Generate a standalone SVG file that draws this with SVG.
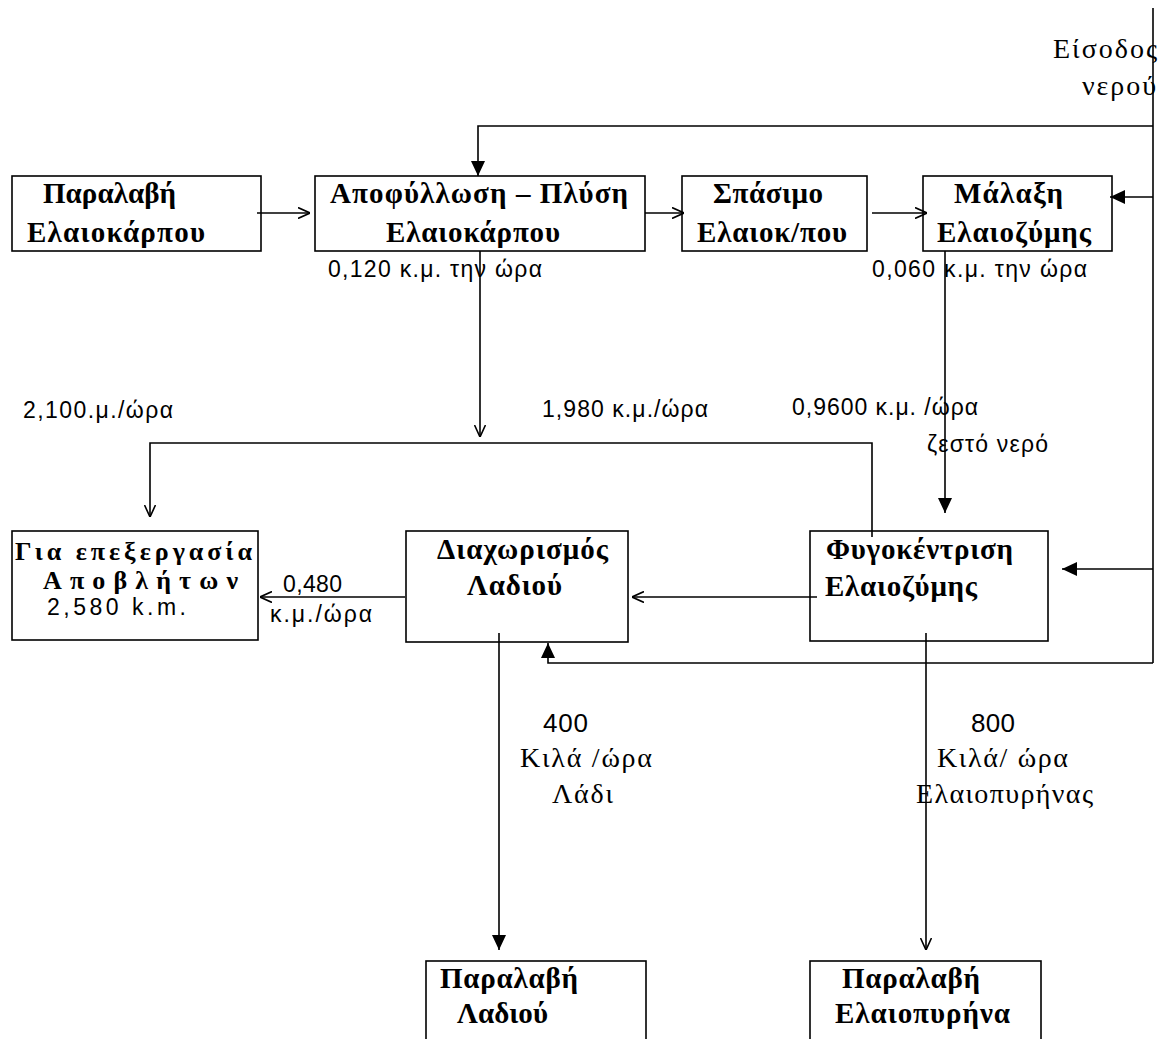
<svg xmlns="http://www.w3.org/2000/svg" width="1160" height="1039" viewBox="0 0 1160 1039">
<style>
.box{fill:none;stroke:#000;stroke-width:1.6}
.ln{fill:none;stroke:#000;stroke-width:1.6}
.b{font-family:"Liberation Serif","DejaVu Serif",serif;font-weight:bold;font-size:29px;fill:#000}
.b2{font-family:"Liberation Serif","DejaVu Serif",serif;font-weight:bold;font-size:26px;fill:#000}
.s{font-family:"Liberation Sans","DejaVu Sans",sans-serif;font-size:23px;fill:#000}
.r{font-family:"Liberation Serif","DejaVu Serif",serif;font-size:28px;fill:#000}
.big{font-family:"Liberation Sans","DejaVu Sans",sans-serif;font-size:26px;fill:#000}
</style>
<defs>
<marker id="open" viewBox="0 0 12 12" refX="12" refY="6" markerWidth="12" markerHeight="12" markerUnits="userSpaceOnUse" orient="auto">
<path d="M0,0.5 L12,6 L0,11.5" fill="none" stroke="#000" stroke-width="1.6"/>
</marker>
<marker id="fill" viewBox="0 0 15 14" refX="15" refY="7" markerWidth="15" markerHeight="14" markerUnits="userSpaceOnUse" orient="auto">
<path d="M0,0 L15,7 L0,14 Z" fill="#000"/>
</marker>
</defs>
<rect x="0" y="0" width="1160" height="1039" fill="#fff"/>

<g id="n1">
<rect class="box" x="12" y="176" width="249" height="75"/>
<text class="b" x="43" y="203" textLength="133" lengthAdjust="spacing">Παραλαβή</text>
<text class="b" x="27" y="242" textLength="178" lengthAdjust="spacing">Ελαιοκάρπου</text>
</g>
<g id="n2">
<rect class="box" x="315" y="176" width="330" height="75"/>
<text class="b" x="330" y="203" textLength="298" lengthAdjust="spacing">Αποφύλλωση – Πλύση</text>
<text class="b" x="386" y="242" textLength="174" lengthAdjust="spacing">Ελαιοκάρπου</text>
</g>
<g id="n3">
<rect class="box" x="682" y="176" width="185" height="75"/>
<text class="b" x="713" y="203" textLength="110" lengthAdjust="spacing">Σπάσιμο</text>
<text class="b" x="697" y="242" textLength="150" lengthAdjust="spacing">Ελαιοκ/που</text>
</g>
<g id="n4">
<rect class="box" x="923" y="176" width="189" height="75"/>
<text class="b" x="954" y="203" textLength="109" lengthAdjust="spacing">Μάλαξη</text>
<text class="b" x="937" y="242" textLength="154" lengthAdjust="spacing">Ελαιοζύμης</text>
</g>
<g id="n5">
<rect class="box" x="12" y="531" width="246" height="109"/>
<text class="b2" x="15" y="560" textLength="237" lengthAdjust="spacing">Για επεξεργασία</text>
<text class="b2" x="43" y="589" textLength="195" lengthAdjust="spacing">Αποβλήτων</text>
<text class="s" x="47" y="615" textLength="139" lengthAdjust="spacing">2,580 k.m.</text>
</g>
<g id="n6">
<rect class="box" x="406" y="531" width="222" height="111"/>
<text class="b" x="437" y="559" textLength="171" lengthAdjust="spacing">Διαχωρισμός</text>
<text class="b" x="467" y="595" textLength="95" lengthAdjust="spacing">Λαδιού</text>
</g>
<g id="n7">
<rect class="box" x="810" y="531" width="238" height="110"/>
<text class="b" x="826" y="559" textLength="187" lengthAdjust="spacing">Φυγοκέντριση</text>
<text class="b" x="825" y="596" textLength="152" lengthAdjust="spacing">Ελαιοζύμης</text>
</g>
<g id="n8">
<rect class="box" x="426" y="961" width="220" height="100"/>
<text class="b" x="440" y="988" textLength="138" lengthAdjust="spacing">Παραλαβή</text>
<text class="b" x="457" y="1023" textLength="91" lengthAdjust="spacing">Λαδιού</text>
</g>
<g id="n9">
<rect class="box" x="810" y="961" width="231" height="100"/>
<text class="b" x="842" y="988" textLength="138" lengthAdjust="spacing">Παραλαβή</text>
<text class="b" x="835" y="1023" textLength="175" lengthAdjust="spacing">Ελαιοπυρήνα</text>
</g>

<g id="connectors">
<line class="ln" x1="257" y1="213" x2="310" y2="213" marker-end="url(#open)"/>
<line class="ln" x1="645" y1="213" x2="684" y2="213" marker-end="url(#open)"/>
<line class="ln" x1="872" y1="213" x2="927" y2="213" marker-end="url(#open)"/>
<line class="ln" x1="1153" y1="8" x2="1153" y2="663"/>
<polyline class="ln" points="1153,126 478,126 478,176" marker-end="url(#fill)"/>
<line class="ln" x1="1153" y1="197" x2="1110" y2="197" marker-end="url(#fill)"/>
<line class="ln" x1="1153" y1="569" x2="1062" y2="569" marker-end="url(#fill)"/>
<polyline class="ln" points="1153,663 548,663 548,643" marker-end="url(#fill)"/>
<line class="ln" x1="480" y1="251" x2="480" y2="437" marker-end="url(#open)"/>
<polyline class="ln" points="872,537 872,443 150,443 150,517" marker-end="url(#open)"/>
<line class="ln" x1="945" y1="251" x2="945" y2="513" marker-end="url(#fill)"/>
<line class="ln" x1="817" y1="597" x2="632" y2="597" marker-end="url(#open)"/>
<line class="ln" x1="405" y1="597" x2="260" y2="597" marker-end="url(#open)"/>
<line class="ln" x1="499" y1="633" x2="499" y2="950" marker-end="url(#fill)"/>
<line class="ln" x1="926" y1="633" x2="926" y2="950" marker-end="url(#open)"/>
</g>

<g id="labels">
<text class="r" x="1053" y="58" textLength="104" lengthAdjust="spacing">Είσοδος</text>
<text class="r" x="1082" y="95" textLength="74" lengthAdjust="spacing">νερού</text>
<text class="s" x="328" y="277" textLength="214" lengthAdjust="spacing">0,120 κ.μ. την ώρα</text>
<text class="s" x="872" y="277" textLength="215" lengthAdjust="spacing">0,060 κ.μ. την ώρα</text>
<text class="s" x="23" y="418" textLength="150" lengthAdjust="spacing">2,100.μ./ώρα</text>
<text class="s" x="542" y="417" textLength="166" lengthAdjust="spacing">1,980 κ.μ./ώρα</text>
<text class="s" x="792" y="415" textLength="186" lengthAdjust="spacing">0,9600 κ.μ. /ώρα</text>
<text class="s" x="927" y="452" textLength="121" lengthAdjust="spacing">ζεστό νερό</text>
<text class="s" x="283" y="592" textLength="59" lengthAdjust="spacing">0,480</text>
<text class="s" x="270" y="622" textLength="102" lengthAdjust="spacing">κ.μ./ώρα</text>
<text class="big" x="543" y="732" textLength="45" lengthAdjust="spacing">400</text>
<text class="r" x="520" y="767" textLength="132" lengthAdjust="spacing">Κιλά /ώρα</text>
<text class="r" x="552" y="803" textLength="61" lengthAdjust="spacing">Λάδι</text>
<text class="big" x="971" y="732" textLength="44" lengthAdjust="spacing">800</text>
<text class="r" x="937" y="767" textLength="131" lengthAdjust="spacing">Κιλά/ ώρα</text>
<text class="r" x="916" y="803" textLength="177" lengthAdjust="spacing">Ελαιοπυρήνας</text>
</g>
</svg>
